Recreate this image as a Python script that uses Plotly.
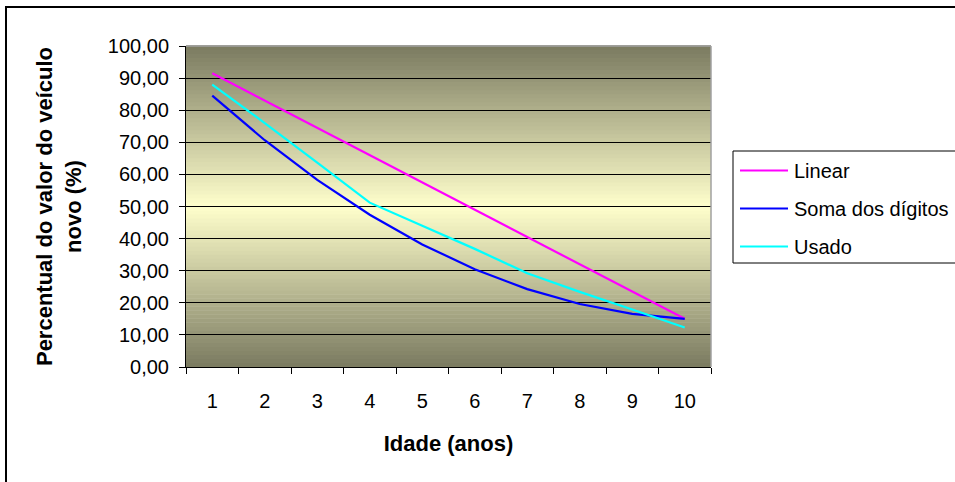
import plotly.graph_objects as go

# Age of the vehicle (years) and remaining value as % of the new price
idade = ["1", "2", "3", "4", "5", "6", "7", "8", "9", "10"]
linear = [91.5, 83.0, 74.5, 66.0, 57.5, 49.0, 40.5, 32.0, 23.5, 15.0]
soma_digitos = [84.55, 70.64, 58.27, 47.45, 38.18, 30.45, 24.27, 19.64, 16.55, 15.00]
usado = [88.0, 76.0, 63.7, 51.2, 44.0, 36.8, 29.2, 23.4, 17.9, 12.3]

series_names = ["Linear", "Soma dos dígitos", "Usado"]
series_values = [linear, soma_digitos, usado]
series_colors = ["#ff00ff", "#0000ff", "#00ffff"]

y_ticks = [0, 10, 20, 30, 40, 50, 60, 70, 80, 90, 100]

W, H = 955, 482
PL, PR, PT, PB = 186, 711, 46, 367  # plot area edges in pixels
FONT = "Liberation Sans, Arial, sans-serif"


def fx(x):
    return (x - PL) / (PR - PL)


def fy(y):
    return (PB - y) / (PB - PT)


fig = go.Figure()
for name, vals, color in zip(series_names, series_values, series_colors):
    fig.add_trace(go.Scatter(
        x=idade, y=vals, name=name, mode="lines",
        line=dict(color=color, width=2.2), showlegend=False,
    ))

shapes = []

# two-colour gradient from the centre of the plot area
edge = (122, 122, 96)
centre = (255, 255, 204)
n_bands = 80
for i in range(n_bands):
    t = (i + 0.5) / n_bands
    d = abs(t - 0.5) * 2
    c = tuple(round(centre[k] + (edge[k] - centre[k]) * d) for k in range(3))
    shapes.append(dict(
        type="rect", xref="paper", yref="paper",
        x0=0, x1=1, y0=i / n_bands, y1=(i + 1) / n_bands + 0.002,
        fillcolor="rgb(%d,%d,%d)" % c, line=dict(width=0), layer="below",
    ))

# plot-area border on the top and right
shapes.append(dict(type="line", xref="paper", yref="paper", x0=0, x1=1, y0=1, y1=1,
                   line=dict(color="#a0a0a0", width=1.5), layer="above"))
shapes.append(dict(type="line", xref="paper", yref="paper", x0=1, x1=1, y0=0, y1=1,
                   line=dict(color="#a0a0a0", width=1.5), layer="above"))

# chart-area border
shapes.append(dict(type="rect", xref="paper", yref="paper",
                   x0=fx(6), x1=fx(990), y0=fy(7), y1=fy(520),
                   line=dict(color="black", width=2), fillcolor="rgba(0,0,0,0)"))

# legend box, samples and labels
shapes.append(dict(type="rect", xref="paper", yref="paper",
                   x0=fx(733), x1=fx(990), y0=fy(151), y1=fy(263),
                   line=dict(color="black", width=1), fillcolor="white"))
annotations = []
legend_rows = [170.5, 208.5, 246.5]
for name, color, ry in zip(series_names, series_colors, legend_rows):
    shapes.append(dict(type="line", xref="paper", yref="paper",
                       x0=fx(740), x1=fx(788), y0=fy(ry), y1=fy(ry),
                       line=dict(color=color, width=2)))
    annotations.append(dict(
        xref="paper", yref="paper", x=fx(792), y=fy(ry), text=name,
        xanchor="left", yanchor="middle", showarrow=False,
        font=dict(family=FONT, size=20, color="black"),
    ))

fig.update_layout(
    width=W, height=H,
    margin=dict(l=PL, r=W - PR, t=PT, b=H - PB, pad=0),
    paper_bgcolor="white", plot_bgcolor="rgba(0,0,0,0)",
    separators=", ",
    shapes=shapes, annotations=annotations,
    font=dict(family=FONT, size=20, color="black"),
    showlegend=False,
)

fig.update_xaxes(
    type="category", tickson="boundaries", range=[-0.5, len(idade) - 0.5],
    ticks="outside", ticklen=6, tickwidth=1, tickcolor="black",
    showline=True, linecolor="black", linewidth=1,
    showgrid=False, zeroline=False,
    tickfont=dict(family=FONT, size=20, color="black"),
    ticklabelstandoff=16,
    title=dict(text="Idade (anos)", standoff=24,
               font=dict(family=FONT, size=22, color="black", weight="bold")),
)

fig.update_yaxes(
    range=[0, 100], tickmode="array", tickvals=y_ticks, tickformat=".2f",
    ticks="outside", ticklen=6, tickwidth=1, tickcolor="black",
    showline=True, linecolor="black", linewidth=1,
    showgrid=True, gridcolor="black", gridwidth=1, zeroline=False,
    tickfont=dict(family=FONT, size=20, color="black"),
    ticklabelstandoff=6,
    title=dict(text="Percentual do valor do veículo<br>novo (%)", standoff=20,
               font=dict(family=FONT, size=22, color="black", weight="bold")),
)

fig.write_html("out.html")
